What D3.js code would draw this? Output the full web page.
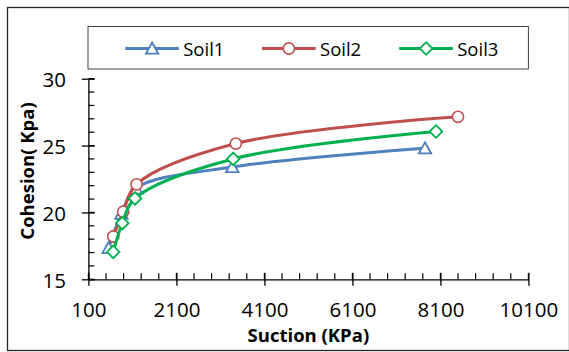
<!DOCTYPE html>
<html><head><meta charset="utf-8">
<script src="https://cdn.jsdelivr.net/npm/d3@7"></script>
<style>html,body{margin:0;padding:0;background:#fff;}svg{display:block;}</style>
</head><body>
<svg id="c" width="569" height="352"></svg>
<script>
const seriesNames = ["Soil1", "Soil2", "Soil3"];
const seriesColors = ["#4F81BD", "#C0504D", "#00B050"];
const seriesMarkers = ["triangle", "circle", "diamond"];
const suction1 = [560, 850, 1180, 3370, 7750];
const cohesion1 = [17.35, 19.9, 21.8, 23.4, 24.8];
const suction2 = [665, 890, 1195, 3450, 8500];
const cohesion2 = [18.2, 20.05, 22.1, 25.15, 27.15];
const suction3 = [665, 870, 1160, 3390, 8000];
const cohesion3 = [17.05, 19.2, 21.05, 24.0, 26.05];
const xTicks = [100, 2100, 4100, 6100, 8100, 10100];
const yTicks = [15, 20, 25, 30];
const xTitle = "Suction (KPa)";
const yTitle = "Cohesion( Kpa)";

const FONT = "'Open Sans', 'Noto Sans', sans-serif";
const svg = d3.select("#c");
const x = d3.scaleLinear().domain([100, 10100]).range([88.4, 528.4]);
const y = d3.scaleLinear().domain([15, 30]).range([279.3, 78.7]);

// outer border
svg.append("rect").attr("x", 7.5).attr("y", 7.5).attr("width", 562).attr("height", 343)
  .attr("fill", "#fff").attr("stroke", "#262626").attr("stroke-width", 1.3);

// minor ticks
const xMinor = d3.range(100, 10100.1, 400);
const yMinor = d3.range(15, 30.1, 1);
const g = svg.append("g");
g.selectAll(".xm").data(xMinor).join("line")
  .attr("x1", d => x(d)).attr("x2", d => x(d))
  .attr("y1", y(15)).attr("y2", y(15) - 6).attr("stroke", "#000").attr("stroke-width", 1.2);
g.selectAll(".ym").data(yMinor).join("line")
  .attr("x1", x(100)).attr("x2", x(100) + 6)
  .attr("y1", d => y(d)).attr("y2", d => y(d)).attr("stroke", "#000").attr("stroke-width", 1.2);

// axes via d3
const xAxis = d3.axisBottom(x).tickValues(xTicks).tickSize(6.5).tickSizeOuter(0).tickPadding(14).tickFormat(d3.format("d"));
const yAxis = d3.axisLeft(y).tickValues(yTicks).tickSize(6.5).tickSizeOuter(0).tickPadding(14).tickFormat(d3.format("d"));
const gx = svg.append("g").attr("transform", `translate(0,${y(15)})`).call(xAxis);
const gy = svg.append("g").attr("transform", `translate(${x(100)},0)`).call(yAxis);
[gx, gy].forEach(a => {
  a.select(".domain").attr("stroke", "#000").attr("stroke-width", 1.3);
  a.selectAll(".tick line").attr("stroke", "#000").attr("stroke-width", 1.3);
  a.selectAll(".tick text").attr("font-family", FONT).attr("font-size", 20.5).attr("fill", "#000");
});
gx.selectAll(".tick line").attr("y1", -6.5);
gy.selectAll(".tick line").attr("x1", 6.5);
gx.selectAll(".tick text").attr("dy", null).attr("y", 32).attr("dominant-baseline", "middle");
gy.selectAll(".tick text").attr("dy", null).attr("x", -22.5).attr("dominant-baseline", "central");

// titles
svg.append("text").attr("x", 308.4).attr("y", 334).attr("text-anchor", "middle").attr("dominant-baseline", "central")
  .attr("font-family", FONT).attr("font-weight", "bold").attr("font-size", 18.5).text(xTitle);
svg.append("text").attr("transform", "translate(26,171) rotate(-90)").attr("text-anchor", "middle").attr("dominant-baseline", "central")
  .attr("font-family", FONT).attr("font-weight", "bold").attr("font-size", 18.5).text(yTitle);

const data = [
  suction1.map((s, i) => [s, cohesion1[i]]),
  suction2.map((s, i) => [s, cohesion2[i]]),
  suction3.map((s, i) => [s, cohesion3[i]])
];
const line = d3.line().x(d => x(d[0])).y(d => y(d[1])).curve(d3.curveCatmullRom.alpha(0.5));

function marker(sel, type, color) {
  if (type === "circle") {
    sel.append("circle").attr("r", 5.6).attr("fill", "#fff").attr("stroke", color).attr("stroke-width", 1.6);
  } else if (type === "diamond") {
    sel.append("path").attr("d", "M0,-6.3L6.3,0L0,6.3L-6.3,0Z").attr("fill", "#fff").attr("stroke", color).attr("stroke-width", 1.8);
  } else {
    sel.append("path").attr("d", "M0,-6L6.2,5.2L-6.2,5.2Z").attr("fill", "#fff").attr("stroke", color).attr("stroke-width", 1.8);
  }
}

data.forEach((pts, k) => {
  const sg = svg.append("g");
  sg.append("path").datum(pts).attr("d", line).attr("fill", "none")
    .attr("stroke", seriesColors[k]).attr("stroke-width", 3).attr("stroke-linecap", "round");
  sg.selectAll("g.m").data(pts).join("g").attr("class", "m")
    .attr("transform", d => `translate(${x(d[0])},${y(d[1])})`)
    .each(function () { marker(d3.select(this), seriesMarkers[k], seriesColors[k]); });
});

// legend
const lg = svg.append("g");
lg.append("rect").attr("x", 88).attr("y", 26.5).attr("width", 440.4).attr("height", 42.5)
  .attr("fill", "#fff").attr("stroke", "#404040").attr("stroke-width", 1);
const legX = [125.2, 262, 399.2];
seriesNames.forEach((n, k) => {
  const it = lg.append("g").attr("transform", `translate(${legX[k]},48.5)`);
  it.append("line").attr("x1", 0).attr("x2", 53.7).attr("y1", 0).attr("y2", 0)
    .attr("stroke", seriesColors[k]).attr("stroke-width", 3);
  const m = it.append("g").attr("transform", "translate(26.9,0)");
  marker(m, seriesMarkers[k], seriesColors[k]);
  it.append("text").attr("x", 58).attr("y", 0).attr("dominant-baseline", "central")
    .attr("font-family", FONT).attr("font-size", 18.5).attr("fill", "#000").text(n);
});
</script>
</body></html>
